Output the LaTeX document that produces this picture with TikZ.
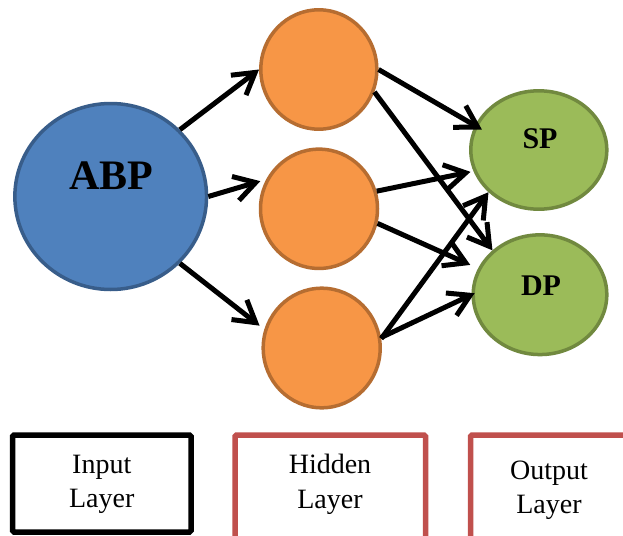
\documentclass[tikz,border=0pt]{standalone}
\usepackage{fontspec}
\setmainfont{Liberation Serif}
\usetikzlibrary{shapes.geometric,arrows.meta}

\definecolor{inFill}{HTML}{4F81BD}
\definecolor{inLine}{HTML}{385D8A}
\definecolor{hidFill}{HTML}{F79646}
\definecolor{hidLine}{HTML}{B66D31}
\definecolor{outFill}{HTML}{9BBB59}
\definecolor{outLine}{HTML}{71893F}
\definecolor{boxRed}{HTML}{C0504D}

\tikzset{
  neuron/.style={ellipse, inner sep=0pt, line width=3.5pt},
  inneuron/.style={neuron, fill=inFill, draw=inLine},
  hidneuron/.style={neuron, fill=hidFill, draw=hidLine},
  outneuron/.style={neuron, fill=outFill, draw=outLine},
  conn/.style={line width=5pt, black,
    -{Straight Barb[length=21pt,width=25pt]}},
  layerbox/.style={rectangle, inner sep=0pt, line width=5.5pt, rounded corners=1.5pt},
  layertext/.style={inner sep=0pt, align=center,
    font=\fontsize{28}{34.5}\selectfont},
  neurontext/.style={inner sep=0pt, anchor=base, font=\bfseries}
}

\begin{document}
\begin{tikzpicture}[x=1pt, y=-1pt]
  \clip (0,0) rectangle (623,535);
  \fill[white] (0,0) rectangle (623,535);

  % neurons
  \node[inneuron, minimum width=191.7pt, minimum height=186pt] (abp) at (110.7,196.5) {};
  \node[hidneuron, minimum width=116pt, minimum height=119.4pt] (h1) at (318.8,69.5) {};
  \node[hidneuron, minimum width=117pt, minimum height=119.3pt] (h2) at (319,208.8) {};
  \node[hidneuron, minimum width=117pt, minimum height=119.6pt] (h3) at (321.7,348) {};
  \node[outneuron, minimum width=136pt, minimum height=118.4pt] (sp) at (538.8,150) {};
  \node[outneuron, minimum width=133.6pt, minimum height=119.7pt] (dp) at (540,294.7) {};

  % neuron labels
  \node[neurontext, font=\bfseries\fontsize{42}{42}\selectfont] (abptext) at (111.5,189) {ABP};
  \node[neurontext, font=\bfseries\fontsize{30}{30}\selectfont] (sptext) at (540,148.3) {SP};
  \node[neurontext, font=\bfseries\fontsize{30}{30}\selectfont] (dptext) at (541,295) {DP};

  % input -> hidden
  \draw[conn] (abp.44) -- (h1.180);
  \draw[conn, shorten >=6pt] (abp.0) -- (h2.151.6);
  \draw[conn, shorten >=6pt] (abp.-44) -- (h3.162.6);

  % hidden -> output
  \draw[conn, shorten >=-8pt] (h1.0) -- (sp.159);
  \draw[conn] (h1.-22.5) -- (dp.137.8);
  \draw[conn, shorten >=3pt] (h2.17) -- (sp.198.4);
  \draw[conn, shorten >=8.5pt] (h2.-14) -- (dp.157.9);
  \draw[conn] (h3.9) -- (sp.220.6);
  \draw[conn, shorten >=-3.5pt] (h3.10) -- (dp.180);

  % layer legend boxes
  \node[layerbox, draw=black, minimum width=178.5pt, minimum height=97pt] (inbox) at (101.75,483.5) {};
  \node[layerbox, draw=boxRed, minimum width=190.5pt, minimum height=115pt] (hidbox) at (330.25,492.5) {};
  \node[layerbox, draw=boxRed, minimum width=159pt, minimum height=115pt] (outbox) at (550,492.5) {};

  \node[layertext] (intext) at (101.75,484.5) {Input\\Layer};
  \node[layertext] (hidtext) at (330,484.3) {Hidden\\Layer};
  \node[layertext] (outtext) at (549,490) {Output\\Layer};
\end{tikzpicture}
\end{document}
